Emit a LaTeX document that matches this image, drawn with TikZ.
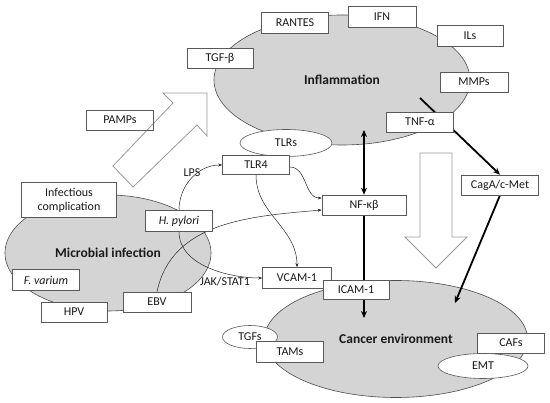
\documentclass[tikz,border=0pt]{standalone}
\usepackage{fontspec}
\setmainfont{Carlito}
\usetikzlibrary{shapes.geometric,arrows.meta}
\pgfdeclarelayer{bgzero}
\pgfdeclarelayer{bgone}
\pgfsetlayers{bgzero,bgone,main}
\begin{document}
\begin{tikzpicture}[x=1pt,y=-1pt,
  every node/.style={font=\fontsize{12}{13}\selectfont, text=black!90, inner sep=0pt},
  box/.style={draw=black!65, fill=white, line width=0.6pt, minimum width=67pt, minimum height=20pt},
  sell/.style={ellipse, draw=black!65, fill=white, line width=0.6pt},
  bigell/.style={ellipse, draw=black!70, fill=black!17, line width=0.6pt, font=\fontsize{13.5}{15}\selectfont\bfseries},
  hollow/.style={draw=black!40, line width=0.8pt},
  thinarr/.style={draw=black!85, line width=0.5pt, -{Stealth[length=4pt,width=3pt]}},
  thickarr/.style={draw=black, line width=1.8pt, -{Stealth[length=7pt,width=6pt]}},
  lbl/.style={font=\fontsize{12}{13}\selectfont}
]
\useasboundingbox (0,0) rectangle (550,403);

% inflammation region
\node[box, minimum height=21pt] (rantes) at (295,23) {RANTES};
\node[box, minimum width=68pt, minimum height=21pt] (ifn) at (382,17) {IFN};
\node[box, minimum width=66pt, minimum height=21pt] (ils) at (470,36) {ILs};
\node[box, minimum width=66pt] (tgfb) at (220,58) {TGF-β};
\node[box, minimum width=68pt] (mmps) at (474,82) {MMPs};
\node[box] (tnf) at (420,122) {TNF-α};
\node[sell, minimum width=92pt, minimum height=27pt] (tlrs) at (286,143) {TLRs};

\node[box, fill=none] (pamps) at (120,120) {PAMPs};

% middle boxes
\node[box, minimum height=19pt] (tlr4) at (256,165) {TLR4};
\node[box, minimum width=84pt] (nf) at (364,205) {NF-κβ};
\node[box, minimum width=77pt] (caga) at (500,185) {CagA/c-Met};
\node[box, minimum width=69pt, minimum height=21pt] (vcam) at (297,278) {VCAM-1};
\node[box, minimum width=66pt, minimum height=19pt] (icam) at (356,290) {ICAM-1};

% microbial boxes
\node[box, align=center, minimum width=95pt, minimum height=35pt, font=\fontsize{12}{14}\selectfont] (infc) at (69,200) {Infectious\\complication};
\node[box, font=\fontsize{12}{13}\selectfont\itshape, minimum height=21pt] (hp) at (179,221) {H. pylori};
\node[box, font=\fontsize{12}{13}\selectfont\itshape, minimum height=21pt] (fvar) at (46,280) {F. varium};
\node[box, minimum width=66pt] (hpv) at (74,312) {HPV};
\node[box, minimum width=68pt] (ebv) at (157,302) {EBV};

% cancer environment items
\node[sell, minimum width=55pt, minimum height=23pt] (tgfs) at (250,337) {TGFs};
\node[box, minimum height=21pt] (tams) at (290,352) {TAMs};
\node[box] (cafs) at (511,343) {CAFs};
\node[sell, minimum width=90pt, minimum height=25pt] (emt) at (483,366) {EMT};

% labels
\node[lbl] (lps) at (192,173) {LPS};
\node[lbl] (jak) at (225,282) {JAK/STAT1};

\begin{pgfonlayer}{bgzero}
\node[bigell, minimum width=256pt, minimum height=130pt] (infl) at (342,80) {Inflammation};
\node[bigell, minimum width=263pt, minimum height=117pt] (canc) at (396,339) {Cancer environment};
\node[bigell, minimum width=206pt, minimum height=116pt] (micro) at (108,253) {Microbial infection};
\end{pgfonlayer}

\begin{pgfonlayer}{bgone}
% hollow arrows
\draw[hollow] (113,166) -- (173,103) -- (163,93) -- (207,93) -- (207,136) -- (197,125) -- (133,187) -- cycle;
\draw[hollow] (420,153) -- (452,153) -- (452,237) -- (467,237) -- (436,268) -- (405,237) -- (420,237) -- cycle;

\coordinate (c1) at (364,130);
\coordinate (c2) at (364,318);
\coordinate (c3) at (420,98);
\coordinate (c4) at (455,303);

% thin connectors
\draw[thinarr] (hp.north) to[out=90, in=180] (tlr4.west);
\draw[thinarr] (hp.south) to[out=-90, in=180, looseness=0.9] (vcam.west);
\draw[thinarr] (ebv.north) to[out=78, in=185] ([yshift=-5pt]nf.west);
\draw[thinarr] ([yshift=-2pt]tlr4.east) to[out=0, in=180] ([yshift=7pt]nf.west);
\draw[thinarr] (tlr4.south) to[out=-90, in=90] (vcam.north);

% thick arrows
\draw[thickarr, {Stealth[length=7pt,width=6pt]}-{Stealth[length=7pt,width=6pt]}] (c1) -- (nf.north);
\draw[thickarr] (nf.south) -- (c2);
\draw[thickarr] (c3) -- (caga.north);
\draw[thickarr] (caga.south) -- (c4);
\end{pgfonlayer}
\end{tikzpicture}
\end{document}
